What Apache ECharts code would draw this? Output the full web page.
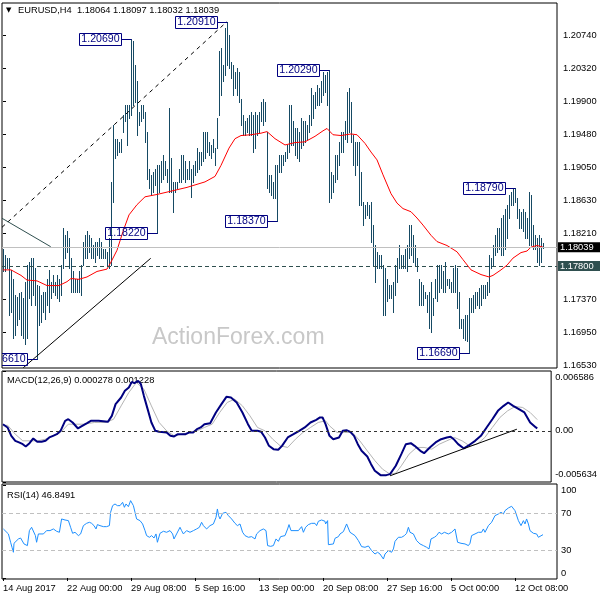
<!DOCTYPE html>
<html><head><meta charset="utf-8">
<script src="https://cdn.jsdelivr.net/npm/echarts@6/dist/echarts.min.js"></script>
<style>html,body{margin:0;padding:0;background:#fff}#c{width:600px;height:600px}</style>
</head><body><div id="c"></div>
<script>
// ---- price bars (H4), high / low per bar ----
const highs = [
1.1802,1.1794,1.1790,1.1790,1.1775,1.1764,1.1743,1.1741,1.1745,1.1747,
1.1739,1.1760,1.1781,1.1785,1.1790,1.1790,1.1777,1.1756,1.1754,1.1743,
1.1747,1.1747,1.1764,1.1775,1.1760,1.1768,1.1760,1.1768,1.1764,1.1781,
1.1828,1.1819,1.1824,1.1815,1.1790,1.1773,1.1764,1.1764,1.1773,1.1781,
1.1811,1.1819,1.1824,1.1819,1.1815,1.1807,1.1811,1.1811,1.1815,1.1811,
1.1802,1.1802,1.1798,1.1815,1.1887,1.1959,1.1942,1.1942,1.1938,1.1942,
1.1972,1.1985,1.1985,1.1985,1.2069,1.2066,1.2036,1.2015,1.1976,1.1985,
1.1985,1.1976,1.1951,1.1904,1.1896,1.1900,1.1904,1.1908,1.1908,1.1913,
1.1921,1.1913,1.1904,1.1981,1.1917,1.1887,1.1887,1.1887,1.1904,1.1921,
1.1921,1.1913,1.1904,1.1913,1.1904,1.1908,1.1913,1.1930,1.1925,1.1925,
1.1951,1.1951,1.1951,1.1938,1.1934,1.1942,1.1930,1.1968,1.2053,1.2057,
1.2036,1.2083,1.2091,1.2074,1.2040,1.2036,1.2027,1.2032,1.2027,1.1993,
1.1972,1.1964,1.1968,1.1972,1.1976,1.1972,1.1976,1.1972,1.1976,1.1989,
1.1993,1.1989,1.1951,1.1896,1.1896,1.1887,1.1908,1.1908,1.1921,1.1921,
1.1921,1.1925,1.1934,1.1985,1.1985,1.1964,1.1955,1.1955,1.1951,1.1968,
1.1964,1.1964,1.1959,1.1972,1.2006,1.1998,1.2002,1.2010,1.2006,1.2015,
1.2027,1.2023,1.2027,1.2029,1.1900,1.1896,1.1921,1.1921,1.1938,1.1951,
1.1951,1.1964,1.2002,1.2006,1.1989,1.1947,1.1938,1.1938,1.1938,1.1900,
1.1862,1.1858,1.1862,1.1858,1.1862,1.1832,1.1807,1.1798,1.1794,1.1794,
1.1781,1.1777,1.1764,1.1756,1.1756,1.1760,1.1781,1.1790,1.1807,1.1794,
1.1794,1.1802,1.1807,1.1832,1.1832,1.1819,1.1807,1.1790,1.1764,1.1760,
1.1756,1.1747,1.1743,1.1747,1.1760,1.1739,1.1764,1.1781,1.1781,1.1781,
1.1773,1.1785,1.1764,1.1764,1.1760,1.1777,1.1781,1.1777,1.1747,1.1713,
1.1713,1.1718,1.1718,1.1739,1.1739,1.1743,1.1747,1.1747,1.1752,1.1756,
1.1756,1.1756,1.1760,1.1794,1.1790,1.1807,1.1819,1.1828,1.1828,1.1841,
1.1845,1.1853,1.1858,1.1870,1.1874,1.1879,1.1879,1.1866,1.1853,1.1849,
1.1853,1.1849,1.1841,1.1874,1.1870,1.1832,1.1819,1.1815,1.1819,1.1815,
1.18097];
const lows = [
1.1773,1.1773,1.1777,1.1718,1.1722,1.1688,1.1692,1.1705,1.1713,1.1692,
1.1688,1.1681,1.1688,1.1739,1.1730,1.1743,1.1730,1.1661,1.1705,1.1709,
1.1722,1.1713,1.1730,1.1722,1.1739,1.1747,1.1743,1.1739,1.1735,1.1743,
1.1777,1.1790,1.1798,1.1777,1.1747,1.1747,1.1747,1.1747,1.1747,1.1743,
1.1781,1.1790,1.1790,1.1798,1.1790,1.1790,1.1785,1.1794,1.1790,1.1790,
1.1790,1.1790,1.1781,1.1777,1.1781,1.1862,1.1917,1.1921,1.1925,1.1925,
1.1951,1.1964,1.1934,1.1968,1.1972,1.1985,1.1989,1.1947,1.1959,1.1964,
1.1968,1.1938,1.1891,1.1879,1.1870,1.1874,1.1883,1.1822,1.1874,1.1887,
1.1891,1.1896,1.1887,1.1874,1.1874,1.1849,1.1874,1.1879,1.1887,1.1887,
1.1891,1.1887,1.1891,1.1891,1.1868,1.1887,1.1896,1.1900,1.1904,1.1908,
1.1913,1.1917,1.1925,1.1921,1.1917,1.1925,1.1908,1.1930,1.1972,1.1998,
1.2015,1.2023,1.2036,1.2032,1.2019,1.1998,1.2006,1.1998,1.1989,1.1959,
1.1947,1.1947,1.1951,1.1947,1.1947,1.1925,1.1930,1.1947,1.1951,1.1964,
1.1959,1.1964,1.1879,1.1874,1.1870,1.1866,1.1866,1.1837,1.1900,1.1900,
1.1908,1.1913,1.1917,1.1925,1.1934,1.1934,1.1921,1.1917,1.1913,1.1930,
1.1934,1.1938,1.1942,1.1951,1.1959,1.1968,1.1981,1.1985,1.1985,1.1989,
1.1998,1.2002,1.1985,1.1862,1.1866,1.1874,1.1887,1.1891,1.1908,1.1925,
1.1925,1.1942,1.1938,1.1951,1.1938,1.1908,1.1896,1.1908,1.1858,1.1858,
1.1832,1.1841,1.1845,1.1841,1.1811,1.1781,1.1760,1.1777,1.1777,1.1777,
1.1718,1.1718,1.1735,1.1739,1.1739,1.1722,1.1743,1.1760,1.1777,1.1777,
1.1777,1.1777,1.1773,1.1790,1.1794,1.1785,1.1781,1.1773,1.1730,1.1730,
1.1730,1.1739,1.1722,1.1701,1.1696,1.1718,1.1739,1.1735,1.1747,1.1752,
1.1747,1.1747,1.1756,1.1752,1.1747,1.1747,1.1747,1.1726,1.1701,1.1701,
1.1688,1.1686,1.1684,1.1669,1.1722,1.1722,1.1726,1.1730,1.1726,1.1730,
1.1739,1.1739,1.1743,1.1747,1.1777,1.1781,1.1794,1.1798,1.1802,1.1794,
1.1794,1.1802,1.1815,1.1841,1.1858,1.1858,1.1862,1.1841,1.1828,1.1828,
1.1824,1.1815,1.1815,1.1807,1.1807,1.1802,1.1802,1.1785,1.1781,1.1785,
1.18032];

// ---- moving average (red), read at sample bars ----
const maIdx = [0,4,9,12,17,22,28,32,34,38,42,47,52,54,57,60,63,67,71,77,82,92,101,106,109,113,116,119,124,129,132,136,141,146,151,156,160,162,165,169,174,177,181,184,187,190,194,197,200,204,207,210,214,217,222,227,230,234,239,243,245,249,252,255,259,262,264,267,270];
const maVal = [1.1775,1.1775,1.1768,1.1762,1.1761,1.1755,1.1755,1.1760,1.1764,1.1763,1.1766,1.1773,1.1776,1.1785,1.1800,1.1824,1.1845,1.1858,1.1868,1.1871,1.1874,1.1880,1.1887,1.1894,1.1908,1.1930,1.1942,1.1946,1.1947,1.1949,1.1951,1.1942,1.1934,1.1937,1.1938,1.1945,1.1952,1.1955,1.1947,1.1946,1.1948,1.1947,1.1936,1.1925,1.1915,1.1896,1.1872,1.1860,1.1853,1.1849,1.1841,1.1832,1.1819,1.1811,1.1806,1.1798,1.1788,1.1775,1.1769,1.1766,1.1768,1.1775,1.1781,1.1790,1.1797,1.1799,1.1804,1.1806,1.1804];

// ---- MACD(12,26,9) ----
const macdIdx = [0,2.3,4.2,6.2,8.1,10,11.5,13.4,15.3,17.3,19.5,21.5,23.4,25.3,27.2,29.1,31.4,33,35.2,37.9,39.6,42.5,44.4,48.3,53,55,56.9,59.7,61.6,63.6,65.1,66.4,68.3,69.7,71.2,73.1,75,77,78.9,82.7,84.6,86.5,88.4,92.3,94.2,96.1,98,99.9,101.8,104.7,107.6,110.4,112.9,115.2,118.1,121,123.8,125.7,128.6,130.5,132.4,134.4,136.7,139.1,141,143.9,146.8,149.7,152.5,155.4,158.3,160.2,161.5,163,165,166.9,169.8,171.7,173.6,175.5,177.4,179.3,181.2,184.1,186,187.9,190.8,193.7,195.6,198.5,201.3,203.6,206.1,208,210.9,212.8,215.7,218.6,221.4,224.3,226.2,228.1,230,232.9,235.8,238.6,241.5,244.4,247.3,250.1,253,255.3,257.8,260.7,263.5,266.4,269.3,270];
const macdVal = [0.00073,0.00037,-0.00055,-0.00110,-0.00128,-0.00147,-0.00172,-0.00136,-0.00084,-0.00121,-0.00121,-0.00110,-0.00073,-0.00055,-0.00037,0,0.00110,0.00128,0.00092,0.00026,0.00048,0.00084,0.00110,0.00110,0.00099,0.00165,0.00294,0.00367,0.00440,0.00477,0.00539,0.00525,0.00550,0.00514,0.00385,0.00239,0.00092,0,-0.00011,-0.00018,-0.00055,-0.00062,-0.00037,-0.00037,-0.00018,-0.00018,0.00018,0.00037,0.00073,0.00084,0.00202,0.00294,0.00374,0.00367,0.00312,0.00202,0.00073,0,0,-0.00011,-0.00073,-0.00165,-0.00202,-0.00209,-0.00165,-0.00073,-0.00037,0,0.00037,0.00092,0.00121,0.00147,0.00147,0.00073,-0.00055,-0.00092,-0.00073,0,0.00007,-0.00011,-0.00055,-0.00147,-0.00220,-0.00283,-0.00367,-0.00440,-0.00488,-0.00488,-0.00477,-0.00385,-0.00257,-0.00147,-0.00136,-0.00165,-0.00220,-0.00246,-0.00183,-0.00128,-0.00092,-0.00073,-0.00066,-0.00099,-0.00147,-0.00194,-0.00154,-0.00110,-0.00055,0.00037,0.00128,0.00220,0.00275,0.00312,0.00275,0.00239,0.00202,0.00092,0.00037,0.000278];
const sigIdx = [0,2.3,6.2,10,13.8,17.6,21.5,25.3,29.1,33,36.8,40.6,46.3,52.1,55.9,59.7,63.6,67.4,71.2,75,78.9,82.7,86.5,90.3,94.2,98,101.8,105.7,109.5,113.3,117.1,121,124.8,128.6,132.4,136.3,140.1,143.9,147.8,151.6,155.4,159.3,163,165,168.8,172.6,176.5,180.3,184.1,188,191.8,195.6,198.5,201.3,205.2,209,212.8,216.7,220.5,224.3,228.1,232,235.8,239.6,243.5,247.3,251.1,255,258.8,262.6,266.4,270];
const sigVal = [0.00055,0.00062,-0.00037,-0.00110,-0.00110,-0.00110,-0.00092,-0.00055,-0.00018,0.00073,0.00073,0.00073,0.00092,0.00092,0.00128,0.00275,0.00422,0.00532,0.00459,0.00275,0.00092,0,-0.00055,-0.00037,-0.00018,0,0.00037,0.00073,0.00202,0.00312,0.00349,0.00275,0.00165,0.00037,0,-0.00092,-0.00165,-0.00183,-0.00092,-0.00018,0.00037,0.00092,0.00110,0.00055,-0.00018,-0.00018,-0.00018,-0.00110,-0.00220,-0.00330,-0.00422,-0.00477,-0.00466,-0.00385,-0.00257,-0.00183,-0.00183,-0.00202,-0.00147,-0.00110,-0.00073,-0.00110,-0.00165,-0.00147,-0.00073,0.00037,0.00147,0.00220,0.00268,0.00257,0.00202,0.001228];

// ---- RSI(14) ----
const rsiIdx = [0.2,1,2.7,3.8,4.5,5.2,5.5,6.5,7.7,8.8,9.8,10.5,11.5,12.2,13.2,14.3,15.2,16.2,16.8,17.7,18.5,20.2,21.8,23.5,25.2,26.8,28.2,29.3,31,32.7,33.8,34.8,36,37.7,38.8,40.2,41.8,43.2,44.3,45.5,46.5,47.2,48.5,50.2,51.8,53.2,53.8,54.8,56,57.2,58.5,59.8,60.7,61.5,62.7,63.8,64.5,65.2,66,66.8,68.5,69.8,71,71.8,73.2,74.3,75.5,76.5,77.2,78.5,80.2,81.8,83.5,84.8,85.5,86.8,88.5,89.3,90.2,91.8,93.5,95.2,96.8,98.2,99.3,100.2,101,101.8,103.5,105.2,106.5,107.2,107.8,108.5,109.8,111.5,112.7,114.3,116,117.2,118.5,119.8,121,122.7,124.3,126,126.8,128.5,130.2,131.5,132.3,133.8,135.2,136.5,137.7,138.8,139.8,
141,142.3,143,144,146,147.7,148.5,149.3,150.2,151.3,152.7,154.3,156,156.8,157.7,159.3,160.2,161,161.3,162.3,162.7,163.5,165.2,166,167.7,168.5,170.2,171.8,173.5,174.3,176,177.7,179.3,181,182.7,184.3,186,187.3,188.5,190.2,191,192.7,194.3,195.2,196,197.7,199.3,200.7,201.8,202.7,203.5,205.2,206.8,208.5,210.2,211.8,213,214,215.7,216.8,218,219.3,220.7,222.7,224.3,226,227.3,229,231,232.7,233.5,234.3,236,237.7,239.3,240.2,241,242.7,244.3,246,247.7,249,250.2,251,252.7,254.3,255.3,256,257.7,259,260.2,261,261.8,262.7,263.5,265.2,266.8,267.7,268.5,270];
const rsiVal = [53.0,51.2,47.6,38.6,33.2,27.8,37.5,36.8,42.2,43.2,41.1,36.8,35.0,35.0,51.2,54.8,53.0,45.8,38.6,47.6,45.8,47.6,51.2,51.2,53.0,50.5,49.4,63.8,62.7,62.0,54.8,48.3,49.4,45.8,47.6,56.6,59.1,60.2,59.1,56.6,53.0,57.7,56.6,55.5,55.5,56.6,71.0,78.2,80.0,78.2,78.2,81.8,76.4,80.0,77.1,83.6,85.4,78.2,71.0,63.8,62.0,58.4,51.2,45.8,44.0,45.8,43.2,47.6,38.6,48.3,50.5,49.4,51.2,47.6,42.2,47.6,54.8,51.2,47.6,51.2,49.4,51.2,53.0,54.8,60.2,56.6,58.4,53.0,56.6,58.4,65.6,74.6,67.4,63.8,69.9,71.0,67.4,63.8,59.1,56.6,58.4,49.4,45.8,44.0,44.7,42.2,47.6,51.2,53.0,51.2,35.0,34.2,35.0,42.2,39.6,44.7,45.8,
45.8,53.0,57.7,51.2,51.2,51.2,49.4,55.5,49.4,54.8,57.7,59.1,59.1,56.6,61.3,62.7,63.8,61.3,58.4,62.0,36.0,35.0,36.8,42.9,44.7,47.6,50.1,58.4,49.4,47.6,45.8,40.4,33.9,33.2,34.6,29.6,25.9,27.8,25.9,20.5,25.9,29.6,27.8,31.4,39.6,44.0,44.0,45.8,48.3,54.8,49.4,47.6,40.4,36.8,35.0,33.2,31.4,42.2,44.0,45.8,49.4,47.6,49.4,47.6,49.4,53.0,38.6,37.5,36.8,35.0,37.5,45.8,47.6,49.4,49.4,53.0,49.4,56.6,60.2,67.4,69.2,71.0,69.2,72.8,75.7,77.5,79.3,72.8,62.0,56.6,62.0,58.4,63.8,58.4,51.2,48.3,47.6,44.0,42.2,46.85];

// ---- axis ticks / labels ----
const priceTicks = [1.1653,1.1695,1.1737,1.1821,1.1863,1.1905,1.1948,1.1990,1.2032,1.2074];
const macdTicks = [-0.005634,0,0.006586];
const rsiTicks = [0,30,70,100];
const dateTickIdx = [0,32,64,96,128,160,192,224,256];
const dateLabels = ['14 Aug 2017','22 Aug 00:00','29 Aug 08:00','5 Sep 16:00','13 Sep 00:00','20 Sep 08:00','27 Sep 16:00','5 Oct 00:00','12 Oct 08:00'];

// ---- swing labels, levels, trendlines ----
const swingIdx = [64,112,163,137,77,17,256,233];
const swingVal = [1.2069,1.2091,1.2029,1.1837,1.1822,1.1661,1.1879,1.1669];
const lastPrice = 1.18039;
const levelPrice = 1.17800;
const channelIdx = [-0.5,112], channelVal = [1.18292,1.2091];
const supportIdx = [10.15,73.85], supportVal = [1.16505,1.17897];
const fallIdx = [-0.5,23.85], fallVal = [1.18407,1.18045];
const macdTrendIdx = [195.6,259.7], macdTrendVal = [-0.00495,0.00018];

const FONT = '"Liberation Sans", Arial, sans-serif';
const BAR = '#164a64';
const zip = (a,b) => a.map((v,i)=>[v,b[i]]);
const dateMap = {}; dateTickIdx.forEach((v,i)=>dateMap[v]=dateLabels[i]);

const gridL = 2, gridW = 555;
const xBase = {type:'value', min:-0.5, max:277, show:false};

const chart = echarts.init(document.getElementById('c'), null, {renderer:'canvas'});
chart.setOption({
  animation:false,
  backgroundColor:'#fff',
  grid:[
    {left:gridL, width:gridW, top:3, height:365, show:true, borderColor:'#000', borderWidth:1},
    {left:gridL, width:gridW, top:371, height:111, show:true, borderColor:'#000', borderWidth:1},
    {left:gridL, width:gridW, top:484, height:95, show:true, borderColor:'#000', borderWidth:1}
  ],
  xAxis:[
    Object.assign({gridIndex:0}, xBase),
    Object.assign({gridIndex:1}, xBase),
    {gridIndex:2, type:'value', min:-0.5, max:277, position:'bottom',
     axisLine:{show:false}, splitLine:{show:false},
     axisTick:{show:true, customValues:dateTickIdx, length:3, lineStyle:{color:'#000'}},
     axisLabel:{show:true, customValues:dateTickIdx, formatter:v=>dateMap[Math.round(v)]||'', align:'left', margin:5, fontSize:9.3, fontFamily:FONT, color:'#000'}}
  ],
  yAxis:[
    {gridIndex:0, type:'value', position:'right', min:1.16501, max:1.21147,
     axisLine:{show:false}, splitLine:{show:false},
     axisTick:{show:true, customValues:priceTicks, length:3, lineStyle:{color:'#000'}},
     axisLabel:{customValues:priceTicks, formatter:v=>v.toFixed(5), margin:6, fontSize:9.3, fontFamily:FONT, color:'#000'}},
    {gridIndex:1, type:'value', position:'right', min:-0.005634, max:0.006586,
     axisLine:{show:false}, splitLine:{show:false},
     axisTick:{show:true, customValues:macdTicks, length:3, lineStyle:{color:'#000'}},
     axisLabel:{customValues:macdTicks, margin:4, fontSize:9.3, fontFamily:FONT, color:'#000',
       formatter:v=> v===0 ? '0.00' : (v>0 ? '{t|'+v.toFixed(6)+'}' : '{b|'+v.toFixed(6)+'}'),
       rich:{t:{padding:[12,0,0,0], fontSize:9.3, fontFamily:FONT}, b:{padding:[0,0,16,0], fontSize:9.3, fontFamily:FONT}}}},
    {gridIndex:2, type:'value', position:'right', min:-1.1, max:101.6,
     axisLine:{show:false}, splitLine:{show:false},
     axisTick:{show:true, customValues:rsiTicks, length:3, lineStyle:{color:'#000'}},
     axisLabel:{customValues:rsiTicks, margin:4, fontSize:9.3, fontFamily:FONT, color:'#000',
       formatter:v=> v===100 ? '{t|100}' : (v===0 ? '{b|0}' : String(v)),
       rich:{t:{padding:[10,0,0,0], fontSize:9.3, fontFamily:FONT}, b:{padding:[0,0,10,0], fontSize:9.3, fontFamily:FONT}}}}
  ],
  graphic:[
    {type:'text', x:152, y:338, z:-10, silent:true, style:{text:'ActionForex.com', font:'23px '+FONT, fill:'#c8c8c8', verticalAlign:'middle'}},
    {type:'text', x:6, y:10.5, silent:true, style:{text:'▼', font:'7px "DejaVu Sans"', fill:'#000', verticalAlign:'middle'}},
    {type:'text', x:18, y:10.5, silent:true, style:{text:'EURUSD,H4  1.18064 1.18097 1.18032 1.18039', font:'9.3px '+FONT, fill:'#000', verticalAlign:'middle'}},
    {type:'text', x:7, y:380, silent:true, style:{text:'MACD(12,26,9) 0.000278 0.001228', font:'9.3px '+FONT, fill:'#000', verticalAlign:'middle'}},
    {type:'text', x:7, y:495.5, silent:true, style:{text:'RSI(14) 46.8491', font:'9.3px '+FONT, fill:'#000', verticalAlign:'middle'}}
  ],
  series:[
    // bars
    {type:'custom', xAxisIndex:0, yAxisIndex:0, z:2, silent:true, clip:true,
     data: highs.map((h,i)=>[i,h,lows[i]]),
     encode:{x:0, y:[1,2]},
     renderItem:(params, api)=>{
       const i = api.value(0);
       const a = api.coord([i, api.value(1)]);
       const b = api.coord([i, api.value(2)]);
       const x = Math.round(a[0]) + 0.5;
       return {type:'line', shape:{x1:x, y1:Math.round(a[1]), x2:x, y2:Math.round(b[1])+1}, style:{stroke:BAR, lineWidth:1}};
     }},
    // moving average + horizontal price levels
    {type:'line', xAxisIndex:0, yAxisIndex:0, z:3, silent:true, symbol:'none', data:zip(maIdx,maVal), lineStyle:{color:'#ff0000', width:1},
     markLine:{silent:true, symbol:'none', animation:false, precision:5, data:[
       {name:'last', yAxis:lastPrice, lineStyle:{color:'#c0c0c0', type:'solid', width:1},
        label:{show:true, position:'end', distance:1, formatter:lastPrice.toFixed(5), backgroundColor:'#000', color:'#fff', padding:[1,8,0,2], fontSize:9.3, fontFamily:FONT}},
       {name:'level', yAxis:levelPrice, lineStyle:{color:'#2f4f4f', type:[4,3], width:1},
        label:{show:true, position:'end', distance:1, formatter:levelPrice.toFixed(5), backgroundColor:'#2f4f4f', color:'#fff', padding:[1,8,0,2], fontSize:9.3, fontFamily:FONT}}
     ]}},
    // trend lines
    {type:'line', xAxisIndex:0, yAxisIndex:0, z:4, silent:true, symbol:'none', data:zip(channelIdx,channelVal), lineStyle:{color:'#000', width:1, type:[4,4]}},
    {type:'line', xAxisIndex:0, yAxisIndex:0, z:4, silent:true, symbol:'none', data:zip(supportIdx,supportVal), lineStyle:{color:'#000', width:1}},
    {type:'line', xAxisIndex:0, yAxisIndex:0, z:4, silent:true, symbol:'none', data:zip(fallIdx,fallVal), lineStyle:{color:'#2f4f4f', width:1}},
    // swing labels
    {type:'custom', xAxisIndex:0, yAxisIndex:0, z:5, silent:true, clip:true,
     data: zip(swingIdx, swingVal), encode:{x:0, y:1},
     renderItem:(params, api)=>{
       const p = api.coord([api.value(0), api.value(1)]);
       const bx = Math.round(p[0]) + 0.5, y = Math.round(p[1]) + 0.5;
       const r = bx - 10, w = 42, h = 12;
       return {type:'group', children:[
         {type:'line', shape:{x1:r, y1:y, x2:bx, y2:y}, style:{stroke:'#000080', lineWidth:1}},
         {type:'rect', shape:{x:r-w, y:y-h/2, width:w, height:h}, style:{fill:'none', stroke:'#000080', lineWidth:1}},
         {type:'text', x:r-w/2, y:y, style:{text:api.value(1).toFixed(5), font:'10.6px '+FONT, fill:'#000080', align:'center', verticalAlign:'middle'}}
       ]};
     }},
    // MACD
    {type:'line', xAxisIndex:1, yAxisIndex:1, z:2, silent:true, symbol:'none', data:zip(sigIdx,sigVal), lineStyle:{color:'#b4b4b4', width:1},
     markLine:{silent:true, symbol:'none', animation:false, precision:6, label:{show:false}, data:[{yAxis:0, lineStyle:{color:'#333', type:[3,3], width:1}}]}},
    {type:'line', xAxisIndex:1, yAxisIndex:1, z:3, silent:true, symbol:'none', data:zip(macdIdx,macdVal), lineStyle:{color:'#000080', width:2}},
    {type:'line', xAxisIndex:1, yAxisIndex:1, z:4, silent:true, symbol:'none', data:zip(macdTrendIdx,macdTrendVal), lineStyle:{color:'#000', width:1}},
    // RSI
    {type:'line', xAxisIndex:2, yAxisIndex:2, z:3, silent:true, symbol:'none', data:zip(rsiIdx,rsiVal), lineStyle:{color:'#1e90ff', width:1},
     markLine:{silent:true, symbol:'none', animation:false, label:{show:false}, data:[
       {yAxis:70, lineStyle:{color:'#c0c0c0', type:[4,3], width:1}},
       {yAxis:30, lineStyle:{color:'#c0c0c0', type:[4,3], width:1}}]}}
  ]
});
</script>
</body></html>
